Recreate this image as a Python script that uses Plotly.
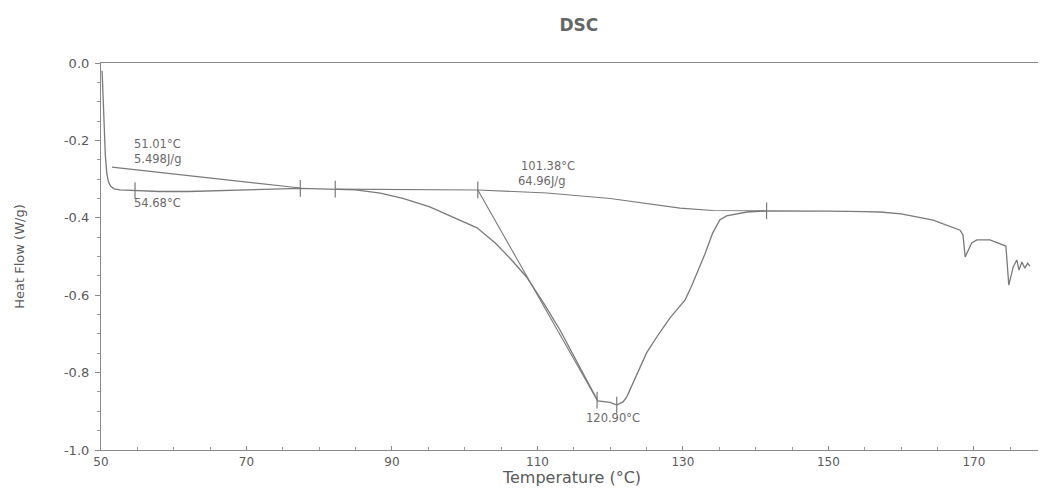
import plotly.graph_objects as go

# DSC curve (temperature °C, heat flow W/g)
temperature = [50.15, 50.3, 50.45, 50.6, 50.8, 51.0, 51.3, 51.8, 52.6, 54.7, 58, 62, 66, 70, 74,
               77.4, 80, 82.2, 85, 88.4, 91.5, 95.2, 99.3, 101.7, 104.2, 106.2, 108.5, 111,
               113.1, 115.3, 117.2, 118.3, 120.0, 120.9, 121.8, 122.3, 123.7, 125.0, 126.4,
               128.2, 129.5, 130.3, 131.1, 131.9, 133.0, 134.1, 135.1, 136.0, 138.8, 141.5,
               145, 150, 155, 157.1, 160, 164.4, 168.1, 168.5, 168.8, 169.7, 170.4, 172.2,
               174.4, 174.8, 175.4, 175.9, 176.2, 176.6, 177.0, 177.4, 177.7]
heat_flow = [-0.02, -0.09, -0.17, -0.24, -0.285, -0.305, -0.318, -0.325, -0.328, -0.330, -0.332,
             -0.332, -0.330, -0.327, -0.325, -0.324, -0.325, -0.326, -0.328, -0.336, -0.350,
             -0.372, -0.405, -0.426, -0.465, -0.504, -0.553, -0.625, -0.690, -0.770, -0.835,
             -0.873, -0.877, -0.884, -0.875, -0.862, -0.801, -0.749, -0.708, -0.659, -0.630,
             -0.612, -0.580, -0.543, -0.495, -0.439, -0.405, -0.395, -0.385, -0.382, -0.382,
             -0.383, -0.384, -0.385, -0.390, -0.406, -0.432, -0.444, -0.501, -0.465, -0.457,
             -0.457, -0.473, -0.574, -0.527, -0.509, -0.535, -0.514, -0.530, -0.517, -0.525]

# integration baselines and onset tangent
base1_t = [51.5, 77.4]
base1_h = [-0.269, -0.323]
base2_t = [82.2, 101.8, 111.3, 120.0, 129.6, 134.1, 141.5]
base2_h = [-0.326, -0.328, -0.336, -0.350, -0.375, -0.381, -0.382]
tangent_t = [101.8, 118.2]
tangent_h = [-0.328, -0.871]

# analysis tick marks on the curve
mark_t = [54.68, 77.4, 82.2, 101.8, 118.2, 120.9, 141.5]
mark_h = [-0.330, -0.324, -0.326, -0.328, -0.871, -0.884, -0.382]

# annotation labels (one entry per printed line)
labels = ["51.01°C", "5.498J/g", "54.68°C", "101.38°C", "64.96J/g", "120.90°C"]
label_t = [54.4, 54.4, 54.4, 107.6, 107.2, 116.5]
label_h = [-0.208, -0.247, -0.362, -0.266, -0.305, -0.917]

x_ticks = [50, 70, 90, 110, 130, 150, 170]
y_ticks = [0, -0.2, -0.4, -0.6, -0.8, -1.0]
y_ticktext = ["0.0", "-0.2", "-0.4", "-0.6", "-0.8", "-1.0"]

line_col = "#7a7a7a"
text_col = "#5a5a5a"
font_family = "DejaVu Sans, Liberation Sans, Arial, sans-serif"

fig = go.Figure()
fig.add_trace(go.Scatter(x=temperature, y=heat_flow, mode="lines",
                         line=dict(color=line_col, width=1.3), showlegend=False))
for xs, ys in [(base1_t, base1_h), (base2_t, base2_h), (tangent_t, tangent_h)]:
    fig.add_trace(go.Scatter(x=xs, y=ys, mode="lines", line=dict(color=line_col, width=1.1),
                             showlegend=False))
fig.add_trace(go.Scatter(x=mark_t, y=mark_h, mode="markers",
                         marker=dict(symbol="line-ns", size=12,
                                     line=dict(color=line_col, width=1.2)),
                         showlegend=False))

for txt, xt, yt in zip(labels, label_t, label_h):
    fig.add_annotation(x=xt, y=yt, text=txt, showarrow=False, xanchor="left", yanchor="middle",
                       align="left", height=14, borderpad=0,
                       font=dict(family=font_family, size=11.5, color="#6a6a6a"))

# page body has an 8px margin, so the figure is sized to fit the 1046x492 window
fig.update_layout(
    width=1038, height=484,
    margin=dict(l=93, r=3, t=55, b=42),
    paper_bgcolor="white", plot_bgcolor="white",
    title=dict(text="<b>DSC</b>", x=0.55, xanchor="center", y=0.965, yanchor="middle",
               font=dict(family=font_family, size=17, color="#666666")),
    font=dict(family=font_family, color=text_col),
)
fig.update_xaxes(range=[50, 179.5], tickvals=x_ticks,
                 showgrid=False, zeroline=False, showline=True, linecolor="#8a8a8a",
                 linewidth=1.2, mirror=True, ticks="inside", ticklen=4, tickcolor="#8a8a8a",
                 minor=dict(dtick=5, ticks="inside", ticklen=3, tickcolor="#9a9a9a"),
                 tickfont=dict(size=12, color=text_col), automargin=False,
                 title=dict(text="Temperature (°C)", font=dict(size=16, color=text_col), standoff=0))
fig.update_yaxes(range=[-1.0, 0.0], tickvals=y_ticks, ticktext=y_ticktext,
                 showgrid=False, zeroline=False, showline=True, linecolor="#8a8a8a",
                 linewidth=1.2, ticks="outside", ticklen=5, tickcolor="#8a8a8a",
                 minor=dict(dtick=0.05, ticks="outside", ticklen=3, tickcolor="#9a9a9a"),
                 tickfont=dict(size=13, color=text_col), automargin=False, ticklabelstandoff=3,
                 title=dict(text="Heat Flow (W/g)", font=dict(size=13, color=text_col), standoff=36))
fig.add_shape(type="line", xref="paper", yref="paper", x0=1, x1=1, y0=0, y1=1,
              line=dict(color="#e4e4e4", width=1))

fig.write_html("out.html")
